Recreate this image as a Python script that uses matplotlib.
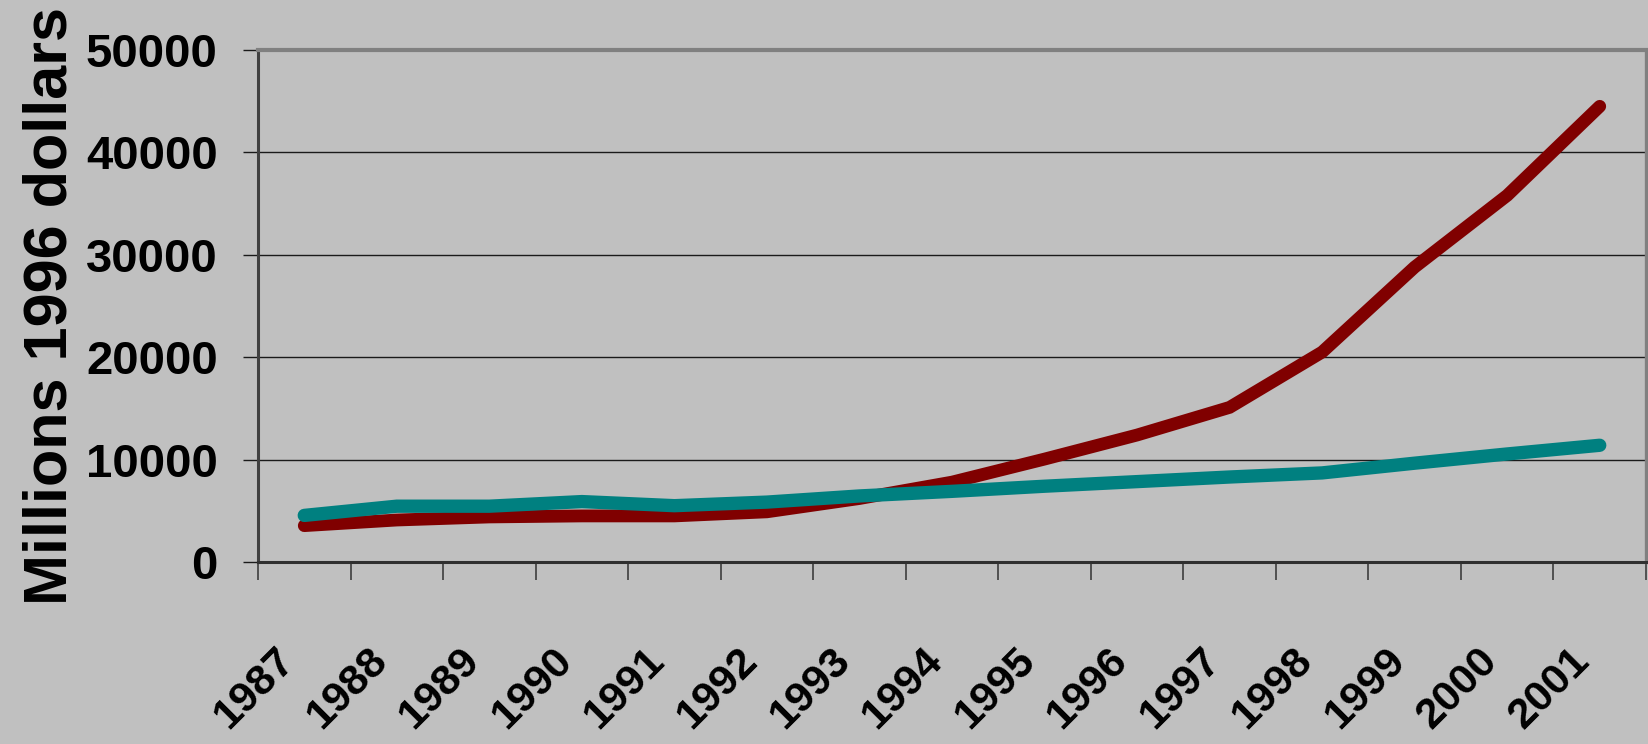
import matplotlib
matplotlib.use("Agg")
import matplotlib.pyplot as plt
import matplotlib.transforms as mtransforms
import numpy as np

years = ["1987", "1988", "1989", "1990", "1991", "1992", "1993", "1994",
         "1995", "1996", "1997", "1998", "1999", "2000", "2001"]
series_red = [3550, 4100, 4400, 4500, 4500, 4900, 6200, 7800,
              10050, 12400, 15100, 20500, 28800, 35800, 44500]
series_teal = [4550, 5450, 5450, 5900, 5500, 5850, 6450, 6900,
               7400, 7850, 8300, 8700, 9650, 10550, 11400]
y_ticks = [0, 10000, 20000, 30000, 40000, 50000]
y_label = "Millions 1996 dollars"

W, H, DPI = 1648, 744, 100
BG = "#c0c0c0"
font_family = ["Liberation Sans", "DejaVu Sans"]

fig = plt.figure(figsize=(W / DPI, H / DPI), dpi=DPI, facecolor=BG)
ax = fig.add_axes([258 / W, 1 - 562 / H, (1646 - 258) / W, (562 - 50) / H])
ax.set_facecolor(BG)

x = np.arange(len(years))
ax.plot(x, series_red, color="#800000", lw=9.2, solid_capstyle="round",
        solid_joinstyle="miter", zorder=3)
ax.plot(x, series_teal, color="#008080", lw=9.6, solid_capstyle="round",
        solid_joinstyle="miter", zorder=4)

ax.set_xlim(-0.5, len(years) - 0.5)
ax.set_ylim(y_ticks[0], y_ticks[-1])

# horizontal gridlines
ax.set_yticks(y_ticks)
ax.yaxis.grid(True, color="#1a1a1a", lw=1.0, zorder=1)
ax.set_axisbelow(True)
ax.tick_params(axis="y", direction="out", length=11, width=1.0,
               color="#1a1a1a", pad=18)
ax.set_yticklabels([str(v) for v in y_ticks], fontsize=34,
                   fontweight="bold", family=font_family)

# category boundaries as tick marks, labels at category centres
ax.set_xticks(np.arange(-0.5, len(years)), minor=True)
ax.set_xticks(x)
ax.tick_params(axis="x", which="minor", direction="out", length=13,
               width=1.1, color="#333333")
ax.tick_params(axis="x", which="major", length=0)
ax.set_xticklabels([])
offset = mtransforms.ScaledTranslation(-30 / DPI, -78 / DPI, fig.dpi_scale_trans)
for xi, lab in zip(x, years):
    ax.text(xi, 0, lab, transform=ax.get_xaxis_transform() + offset,
            rotation=45, rotation_mode="anchor", ha="right", va="top",
            fontsize=31, fontweight="bold", family=font_family)

for side, col, lw in [("left", "#404040", 2.2), ("bottom", "#303030", 2.2),
                      ("top", "#808080", 3.0), ("right", "#808080", 2.4)]:
    ax.spines[side].set_color(col)
    ax.spines[side].set_linewidth(lw)

fig.text(51 / W, 1 - 306 / H, y_label, rotation=90, ha="center", va="center",
         fontsize=44, fontweight="bold", family=font_family)

fig.savefig("out.png", dpi=DPI, facecolor=BG)
